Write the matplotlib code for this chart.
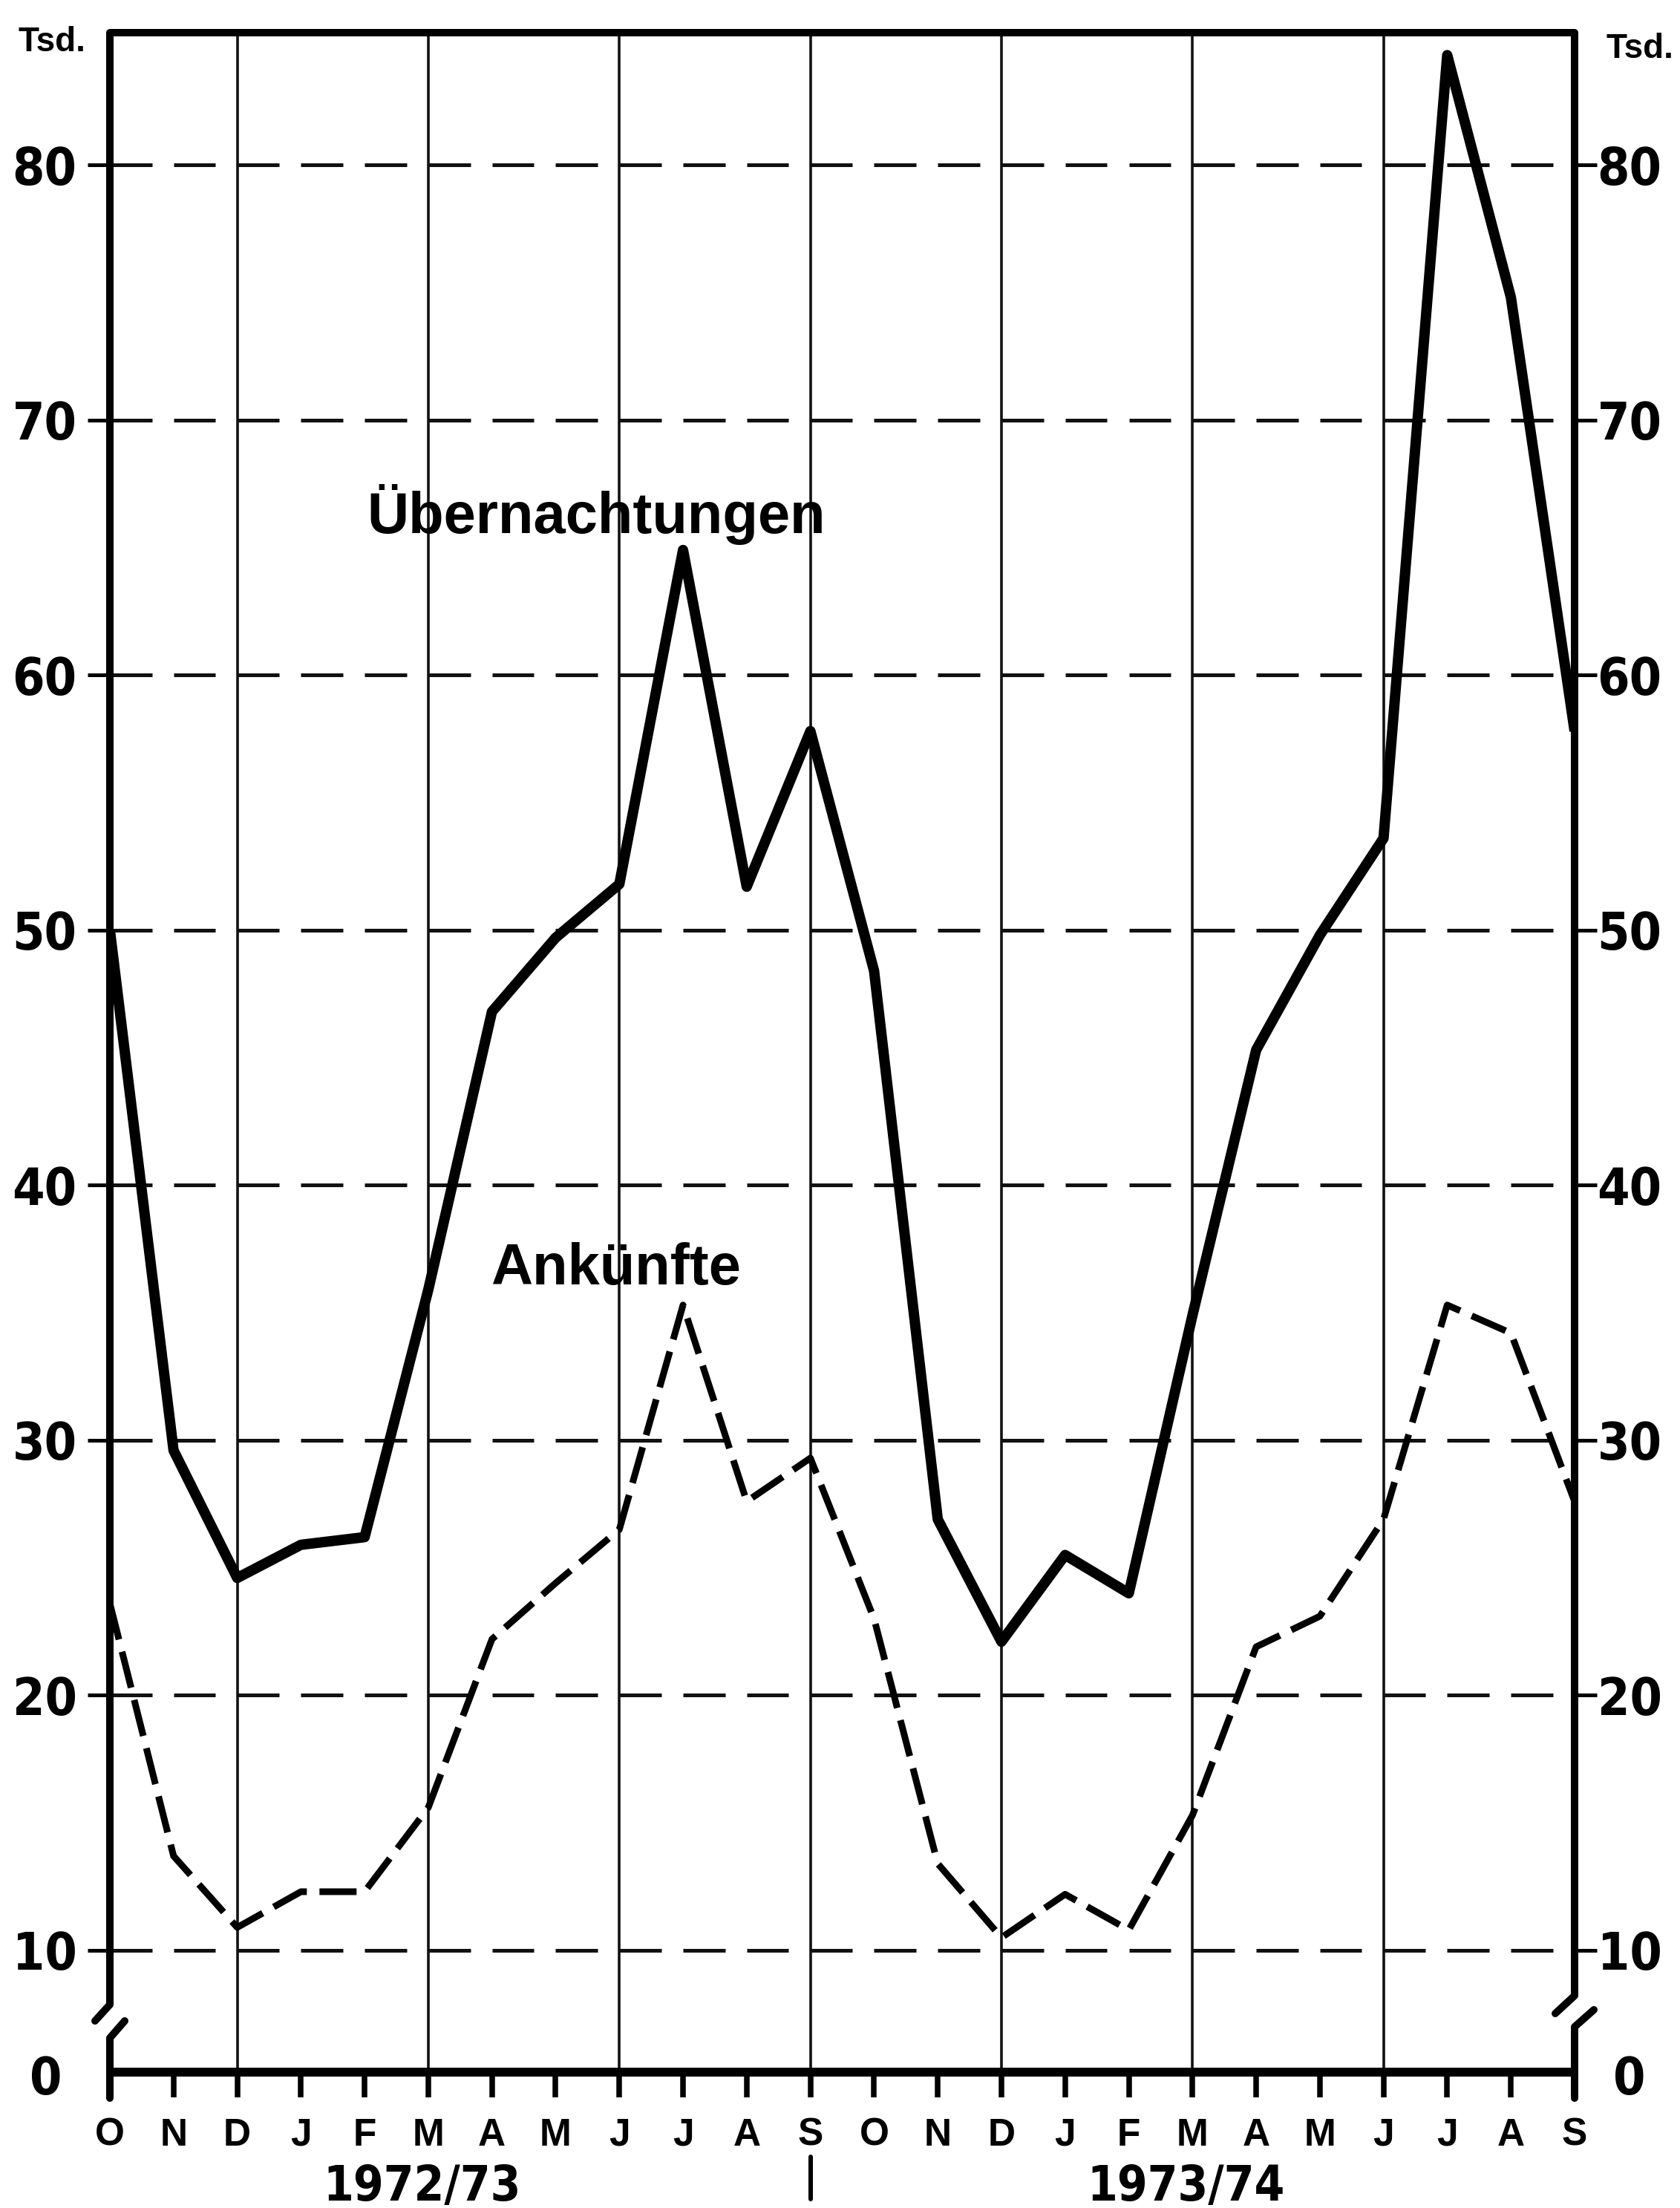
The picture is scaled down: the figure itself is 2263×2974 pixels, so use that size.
import matplotlib
matplotlib.use("Agg")
import matplotlib.pyplot as plt
from matplotlib import font_manager as fm
from matplotlib import transforms
import numpy as np

# ---------------- data ----------------
months = ['O', 'N', 'D', 'J', 'F', 'M', 'A', 'M', 'J', 'J', 'A', 'S',
          'O', 'N', 'D', 'J', 'F', 'M', 'A', 'M', 'J', 'J', 'A', 'S']
uebernachtungen = [50.0, 29.6, 24.6, 25.9, 26.2, 35.9, 46.8, 49.7, 51.8, 64.9, 51.7, 57.8,
                   48.4, 26.9, 22.1, 25.5, 24.0, 34.9, 45.3, 49.8, 53.6, 84.3, 74.8, 57.8]
ankuenfte = [23.6, 13.7, 10.9, 12.3, 12.3, 15.6, 22.2, 24.4, 26.5, 35.3, 27.6, 29.3,
             23.0, 13.4, 10.5, 12.2, 10.8, 15.3, 21.9, 23.1, 26.9, 35.3, 34.2, 27.6]
y_ticks = [10, 20, 30, 40, 50, 60, 70, 80]
y_tick_labels = ['10', '20', '30', '40', '50', '60', '70', '80']
zero_label = '0'
unit_label = 'Tsd.'
season_labels = ['1972/73', '1973/74']
season_pos = [4.9, 16.9]
quarter_lines = [2, 5, 8, 11, 14, 17, 20]
series_names = ['Übernachtungen', 'Ankünfte']

# ---------------- layout ----------------
W, H, DPI = 2263, 2974, 100
PT = 72.0 / DPI           # points per pixel
X0, X1 = 148, 2121        # frame left/right (px)
Y_TOP, Y_AX = 44, 2791    # frame top / zero axis (px)
PX_PER_UNIT = (2627 - 222) / 70.0
Y_BOT = 10 - (Y_AX - 2627) / PX_PER_UNIT
Y_TOPV = 80 + (222 - Y_TOP) / PX_PER_UNIT
PX_PER_MONTH = (X1 - X0) / 23.0

plt.rcParams['lines.scale_dashes'] = False
plt.rcParams['font.family'] = ['Liberation Sans', 'DejaVu Sans']


def _is_bold(f):
    w = str(f.weight).lower()
    return w in ('bold', '700', '800', 'heavy', 'black', '900') or 'bold' in f.fname.lower()


def narrow_font_path():
    fl = fm.fontManager.ttflist
    prefs = ['liberationsansnarrow-bold.', 'dejavusanscondensed-bold.',
             'opensanscondensed-bold', 'robotocondensed-bold', 'notosans-condensedbold',
             'notosanscondensed-bold']
    for key in prefs:
        for f in fl:
            if key in f.fname.lower().replace(' ', ''):
                return f.fname
    for f in fl:
        n = (f.name + ' ' + f.fname).lower()
        if ('narrow' in n or 'condensed' in n) and _is_bold(f) and 'italic' not in n \
                and 'oblique' not in n:
            return f.fname
    return None


NARROW = narrow_font_path()


def num_props(size):
    if NARROW:
        return fm.FontProperties(fname=NARROW, size=size)
    return fm.FontProperties(family='Liberation Sans', weight='bold', size=size * 0.95)


num_font = num_props(50)
year_font = num_props(47)

fig = plt.figure(figsize=(W / DPI, H / DPI), dpi=DPI)
fig.patch.set_facecolor('white')
ax = fig.add_axes([X0 / W, 1 - Y_AX / H, (X1 - X0) / W, (Y_AX - Y_TOP) / H])
ax.set_xlim(0, 23)
ax.set_ylim(Y_BOT, Y_TOPV)
for s in ax.spines.values():
    s.set_visible(False)
ax.patch.set_alpha(0)

x = np.arange(len(months))

# grid: dashed horizontal (one dash per month), solid vertical every quarter
seg_start = x[:-1].astype(float)
for yv in y_ticks:
    ax.hlines(np.full(seg_start.shape, yv, dtype=float), seg_start, seg_start + 0.66,
              color='#111111', lw=5 * PT, zorder=1)
ax.vlines(quarter_lines, Y_BOT, Y_TOPV, color='#111111', lw=3.6 * PT, zorder=1)

# frame with axis breaks
dxl = 20 / PX_PER_MONTH
dxr = 26 / PX_PER_MONTH
tick_end = Y_BOT - 35 / PX_PER_UNIT
fr = dict(color='black', lw=10 * PT, clip_on=False, solid_joinstyle='round',
          solid_capstyle='round', zorder=5)
ax.plot([-dxl, 0, 0, 23, 23, 23 - dxr],
        [10 - 95 / PX_PER_UNIT, 10 - 73 / PX_PER_UNIT, Y_TOPV, Y_TOPV,
         10 - 61 / PX_PER_UNIT, 10 - 85 / PX_PER_UNIT], **fr)
ax.plot([dxl, 0, 0], [10 - 95 / PX_PER_UNIT, 10 - 118 / PX_PER_UNIT, tick_end], **fr)
ax.plot([23 + dxr, 23, 23], [10 - 80 / PX_PER_UNIT, 10 - 103 / PX_PER_UNIT, tick_end], **fr)
ax.plot([0, 23], [Y_BOT, Y_BOT], color='black', lw=12 * PT, clip_on=False,
        solid_capstyle='butt', zorder=5)

# series
ax.plot(x, uebernachtungen, color='black', lw=14 * PT, solid_joinstyle='round',
        solid_capstyle='butt', zorder=4)
ax.plot(x, ankuenfte, color='black', lw=9 * PT, linestyle=(0, (50 * PT, 17 * PT)),
        dash_joinstyle='round', dash_capstyle='butt', zorder=4)

# series labels
ax.text(7.636, 80 - (718 - 222) / PX_PER_UNIT, series_names[0], ha='center', va='baseline',
        fontsize=56, fontweight='bold', zorder=6)
ax.text(7.94, 80 - (1730 - 222) / PX_PER_UNIT, series_names[1], ha='center', va='baseline',
        fontsize=56, fontweight='bold', zorder=6)

# x ticks (months)
ax.set_xticks(x)
ax.set_xticklabels(months, fontsize=37, fontweight='bold')
ax.tick_params(axis='x', direction='out', length=34 * PT, width=7.5 * PT, pad=(80 - 34) * PT,
               color='black')
for t in ax.get_xticklabels():
    t.set_va('center_baseline')

# y ticks left
ax.set_yticks(y_ticks)
ax.set_yticklabels(y_tick_labels, fontproperties=num_font)
ax.tick_params(axis='y', direction='out', length=30 * PT, width=5 * PT,
               pad=(148 - 60 - 30) * PT, color='black')
for t in ax.get_yticklabels():
    t.set_ha('center')

# y ticks right
ax2 = ax.twinx()
ax2.set_ylim(Y_BOT, Y_TOPV)
for s in ax2.spines.values():
    s.set_visible(False)
ax2.set_yticks(y_ticks)
ax2.set_yticklabels(y_tick_labels, fontproperties=num_font)
ax2.tick_params(axis='y', direction='out', length=30 * PT, width=5 * PT,
                pad=(2195 - 2121 - 30) * PT, color='black')
for t in ax2.get_yticklabels():
    t.set_ha('center')

# zero labels at the broken axis
fig.text(62 / W, 1 - 2794 / H, zero_label, ha='center', va='center_baseline',
         fontproperties=num_font)
fig.text(2195 / W, 1 - 2794 / H, zero_label, ha='center', va='center_baseline',
         fontproperties=num_font)

# unit labels
fig.text(70 / W, 1 - 52 / H, unit_label, ha='center', va='center_baseline',
         fontsize=33, fontweight='bold')
fig.text(2209 / W, 1 - 61 / H, unit_label, ha='center', va='center_baseline',
         fontsize=33, fontweight='bold')

# season labels and separator
bt = transforms.blended_transform_factory(ax.transData, fig.transFigure)
for lab, pos in zip(season_labels, season_pos):
    ax.text(pos, 1 - 2964 / H, lab, transform=bt, ha='center', va='baseline',
            fontproperties=year_font, clip_on=False)
ax.plot([11, 11], [1 - 2905 / H, 1 - 2962 / H], transform=bt, color='black',
        lw=6 * PT, clip_on=False, solid_capstyle='round')

fig.savefig('out.png', dpi=DPI, facecolor='white')
